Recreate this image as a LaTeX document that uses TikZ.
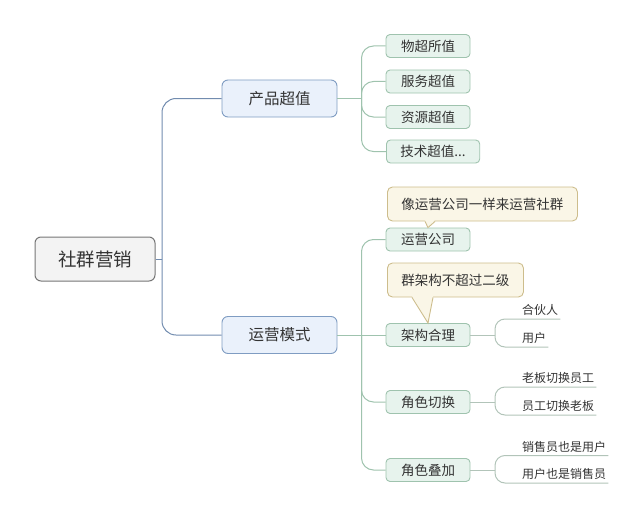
\documentclass[tikz,border=0pt]{standalone}
\usepackage{fontspec}
\setmainfont{Noto Sans CJK SC}
\usepackage{tikz}

\definecolor{inkgray}{HTML}{333333}
\definecolor{rootfill}{HTML}{F3F3F3}
\definecolor{rootline}{HTML}{767676}
\definecolor{bluefill}{HTML}{EAF1FB}
\definecolor{blueline}{HTML}{7F9CC2}
\definecolor{greenfill}{HTML}{E7F3ED}
\definecolor{greenline}{HTML}{9FC3AE}
\definecolor{twigline}{HTML}{B2C4B9}
\definecolor{notefill}{HTML}{FAF6E7}
\definecolor{noteline}{HTML}{CDBD8C}

\begin{document}
\begin{tikzpicture}[
	x=1pt, y=-1pt,
	text=inkgray,
	rootbox/.style={draw=rootline, fill=rootfill, rounded corners=6pt, line width=1pt, minimum width=120pt, minimum height=44pt, font=\fontsize{18.5}{22}\selectfont},
	topic/.style={draw=blueline, fill=bluefill, rounded corners=6pt, line width=0.9pt, minimum width=115pt, minimum height=37pt, font=\fontsize{15.5}{18}\selectfont},
	sub/.style={draw=greenline, fill=greenfill, rounded corners=4pt, line width=0.9pt, minimum width=84pt, minimum height=23pt, inner xsep=14pt, inner ysep=0pt, font=\fontsize{13.5}{16}\selectfont},
	note/.style={draw=noteline, fill=notefill, rounded corners=5pt, line width=0.9pt, minimum height=34pt, inner xsep=14pt, font=\fontsize{13.5}{16}\selectfont},
	leaf/.style={inner xsep=2pt, inner ysep=3pt, font=\fontsize{12}{14}\selectfont},
	trunk/.style={draw=blueline!90!black, line width=1pt, rounded corners=14pt},
	branch/.style={draw=greenline, line width=1pt, rounded corners=12pt},
	twig/.style={draw=twigline, line width=1pt, rounded corners=10pt}
]
\useasboundingbox (0,0) rectangle (640,519);

% 中心主题
\node[rootbox] (root) at (95,259) {社群营销};

% 一级分支
\node[topic] (P) at (279.5,98.5) {产品超值};
\node[topic] (Y) at (279.5,335) {运营模式};

% 产品超值
\node[sub] (P1) at (428,46) {物超所值};
\node[sub] (P2) at (428,81.5) {服务超值};
\node[sub] (P3) at (428,117) {资源超值};
\node[sub, anchor=west] (P4) at (386,151.5) {技术超值...};

% 运营模式
\node[sub] (Y1) at (428,239.5) {运营公司};
\node[sub] (Y2) at (428,335) {架构合理};
\node[sub] (Y3) at (428,402) {角色切换};
\node[sub] (Y4) at (428,470) {角色叠加};

% 标注
\node[note, anchor=west] (C1) at (387,204) {像运营公司一样来运营社群};
\node[note, anchor=west] (C2) at (387,280) {群架构不超过二级};

% 三级
\node[leaf, anchor=south west] (A1) at (520,319) {合伙人};
\node[leaf, anchor=south west] (A2) at (520,347) {用户};
\node[leaf, anchor=south west] (B1) at (520,387) {老板切换员工};
\node[leaf, anchor=south west] (B2) at (520,415) {员工切换老板};
\node[leaf, anchor=south west] (D1) at (520,455.5) {销售员也是用户};
\node[leaf, anchor=south west] (D2) at (520,483) {用户也是销售员};

% 分叉点
\coordinate (rj) at (162,259);
\coordinate (pj) at (361.5,98.5);
\coordinate (yj) at (361.5,335);
\coordinate (aj) at (495,335);
\coordinate (bj) at (495,402);
\coordinate (dj) at (495,470);

% 连线
\draw[trunk] (root.east) -- (rj);
\draw[trunk] (rj) |- (P.west);
\draw[trunk] (rj) |- (Y.west);

\draw[branch] (P.east) -- (pj);
\draw[branch] (pj) |- (P1.west);
\draw[branch] (pj) |- (P2.west);
\draw[branch] (pj) |- (P3.west);
\draw[branch] (pj) |- (P4.west);

\draw[branch] (Y.east) -- (yj);
\draw[branch] (yj) |- (Y1.west);
\draw[branch] (yj) -- (Y2.west);
\draw[branch] (yj) |- (Y3.west);
\draw[branch] (yj) |- (Y4.west);

\draw[twig] (Y2.east) -- (aj);
\draw[twig] (aj) |- (A1.south west) -- (A1.south east);
\draw[twig] (aj) |- (A2.south west) -- (A2.south east);
\draw[twig] (Y3.east) -- (bj);
\draw[twig] (bj) |- (B1.south west) -- (B1.south east);
\draw[twig] (bj) |- (B2.south west) -- (B2.south east);
\draw[twig] (Y4.east) -- (dj);
\draw[twig] (dj) |- (D1.south west) -- (D1.south east);
\draw[twig] (dj) |- (D2.south west) -- (D2.south east);

% 标注指针
\fill[notefill] ([xshift=38pt,yshift=1.5pt]C1.south west) -- (Y1.north) -- ([xshift=48pt,yshift=1.5pt]C1.south west) -- cycle;
\draw[noteline, line width=0.9pt] ([xshift=38pt]C1.south west) -- (Y1.north) -- ([xshift=48pt]C1.south west);
\fill[notefill] ([xshift=25pt,yshift=1.5pt]C2.south west) -- (Y2.north) -- ([xshift=46pt,yshift=1.5pt]C2.south west) -- cycle;
\draw[noteline, line width=0.9pt] ([xshift=25pt]C2.south west) -- (Y2.north) -- ([xshift=46pt]C2.south west);
\end{tikzpicture}
\end{document}
